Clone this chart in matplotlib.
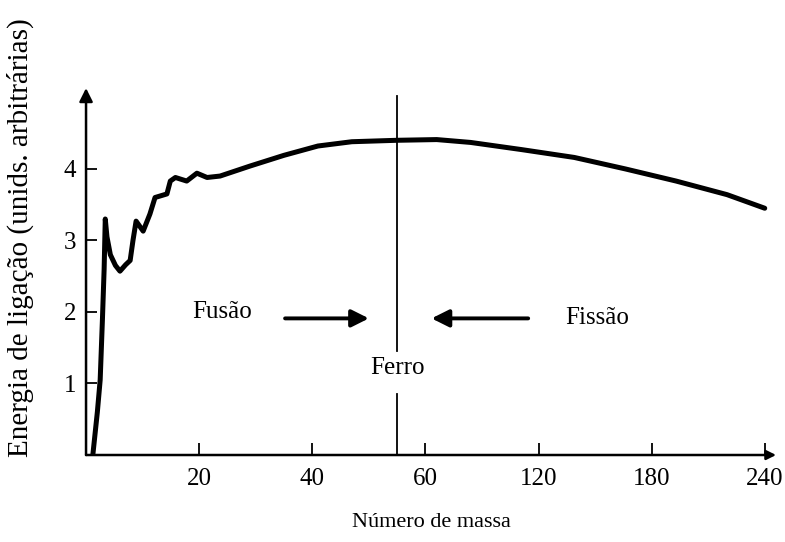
import numpy as np
import matplotlib
matplotlib.use("Agg")
import matplotlib.pyplot as plt

plt.rcParams["font.family"] = ["Liberation Serif", "DejaVu Serif"]

# curva de energia de ligação
mass_number = [1.2, 2.0, 2.5, 2.9, 3.2, 3.4, 3.7, 4.3, 5.2, 6.0, 7.0, 7.8, 8.3,
               8.85, 10.1, 11.3, 12.2, 14.3, 14.9, 15.8, 17.8, 19.6, 21.4, 23.7,
               29, 35, 41, 47, 55, 66, 84, 111, 139, 166, 193, 220, 240]
binding_energy = [0.0, 0.6, 1.05, 1.9, 2.6, 3.3, 3.05, 2.8, 2.65, 2.57, 2.66,
                  2.72, 3.0, 3.27, 3.13, 3.37, 3.6, 3.65, 3.83, 3.88, 3.83,
                  3.94, 3.88, 3.9, 4.04, 4.19, 4.32, 4.38, 4.40, 4.41, 4.37,
                  4.27, 4.16, 4.0, 3.83, 3.64, 3.45]

x_ticks = [20, 40, 60, 120, 180, 240]
y_ticks = [1, 2, 3, 4]
FERRO_A = 55


# eixo x: linear até 60, depois comprimido (1/3)
def fwd(a):
    a = np.asarray(a, dtype=float)
    return np.where(a <= 60, a, 60 + (a - 60) / 3.0)


def inv(t):
    t = np.asarray(t, dtype=float)
    return np.where(t <= 60, t, 60 + (t - 60) * 3.0)


fig = plt.figure(figsize=(7.85, 5.42), dpi=100)
ax = fig.add_axes([0.1096, 0.1605, 0.879, 0.677])
ax.set_xscale("function", functions=(fwd, inv))
ax.set_xlim(0, 246)
ax.set_ylim(0, 5.13)

ax.plot(mass_number, binding_energy, color="black", linewidth=3.6,
        solid_capstyle="round", solid_joinstyle="round")

# linha do ferro, interrompida no rótulo
ax.plot([FERRO_A, FERRO_A], [1.45, 5.02], color="black", linewidth=1.3)
ax.plot([FERRO_A, FERRO_A], [0, 0.85], color="black", linewidth=1.3)
ax.text(FERRO_A, 1.22, "Ferro", ha="center", va="center", fontsize=18)

# fusão / fissão
ax.text(24, 2.0, "Fusão", ha="center", va="center", fontsize=18)
ax.annotate("", xy=(50.5, 1.91), xytext=(34.7, 1.91),
            arrowprops=dict(arrowstyle="-|>", color="black", lw=2.8,
                            mutation_scale=26))
ax.text(151, 1.92, "Fissão", ha="center", va="center", fontsize=18)
ax.annotate("", xy=(61.8, 1.91), xytext=(116, 1.91),
            arrowprops=dict(arrowstyle="-|>", color="black", lw=2.8,
                            mutation_scale=26))

# eixos com setas
for s in ax.spines.values():
    s.set_visible(False)
ax.annotate("", xy=(0, 1.0), xytext=(0, 0), xycoords="axes fraction",
            arrowprops=dict(arrowstyle="-|>", color="black", lw=1.8,
                            mutation_scale=20, shrinkA=0, shrinkB=0))
ax.annotate("", xy=(1.0, 0), xytext=(0, 0), xycoords="axes fraction",
            arrowprops=dict(arrowstyle="-|>", color="black", lw=1.8,
                            mutation_scale=14, shrinkA=0, shrinkB=0))

ax.set_xticks(x_ticks)
ax.set_xticklabels([str(v) for v in x_ticks])
ax.set_yticks(y_ticks)
ax.set_yticklabels([str(v) for v in y_ticks])
ax.tick_params(axis="x", direction="in", length=9, width=1.3,
               labelsize=18, pad=9)
ax.tick_params(axis="y", direction="in", length=8, width=1.3,
               labelsize=18, pad=7)
ax.minorticks_off()

ax.set_xlabel("Número de massa", fontsize=16, labelpad=17)
fig.text(0.026, (542 - 457) / 542, "Energia de ligação (unids. arbitrárias)",
         rotation=90, ha="center", va="bottom", fontsize=21)

fig.savefig("out.png", dpi=100)
